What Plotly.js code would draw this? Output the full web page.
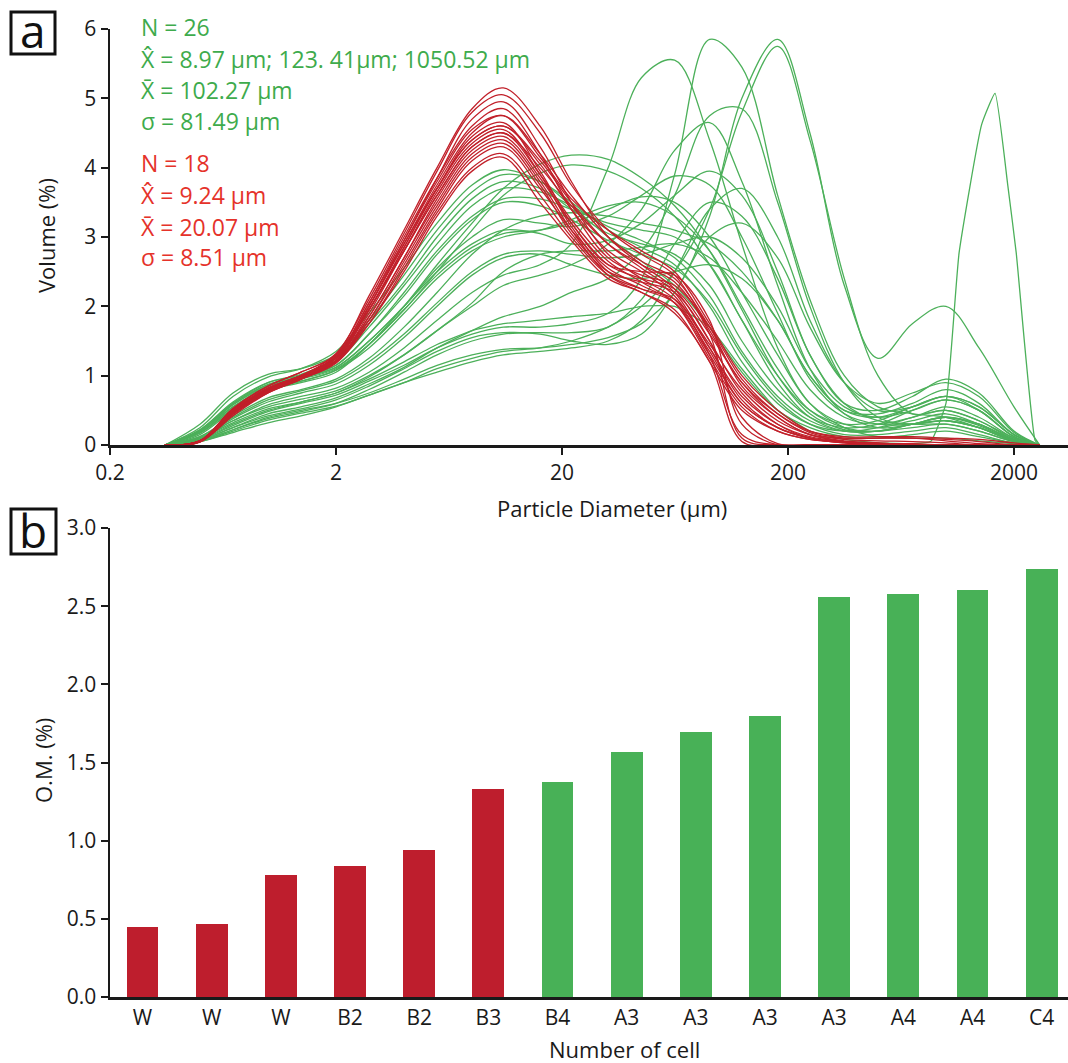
<!DOCTYPE html>
<html>
<head>
<meta charset="utf-8">
<script src="https://cdn.plot.ly/plotly-3.0.1.min.js"></script>
<style>html,body{margin:0;padding:0;background:#fff;}#chart{width:1068px;height:1063px;}</style>
</head>
<body>
<div id="chart"></div>
<script>
// ---------- Panel a: particle size distributions (Volume %) ----------
const diameterUm = [0.35,0.5,0.7,1,1.4,2,2.8,4,5.6,8,11,16,22,32,45,63,90,125,180,250,355,500,710,1000,1400,2000,2600];
const spikeDiameterUm = [0.35,0.5,0.7,1,1.4,2,2.8,4,5.6,8,11,16,22,32,45,63,90,125,180,250,355,500,710,855,1000,1143,1438,1649,1880,2046,2478,2600];

const diameterTickVals = [0.2,2,20,200,2000];
const diameterTickText = ['0.2','2','20','200','2000'];

// red group (N = 18)
const red01 = [0,0.05,0.45,0.78,0.98,1.3,2.15,3.1,4.0,4.85,5.15,4.6,3.8,3.0,2.6,2.25,1.5,0.75,0.3,0.1,0.03,0,0,0,0,0,0];
const red02 = [0,0.06,0.5,0.82,1.0,1.32,2.1,3.05,3.95,4.8,5.05,4.5,3.75,3.1,2.75,2.45,1.65,0.9,0.4,0.15,0.05,0.02,0,0,0,0,0];
const red03 = [0,0.04,0.42,0.75,0.95,1.25,2.0,2.95,3.85,4.7,4.95,4.3,3.5,2.75,2.4,2.1,1.3,0.15,0,0,0,0,0,0,0,0,0];
const red04 = [0,0.05,0.48,0.8,1.0,1.28,2.05,3.0,3.85,4.6,4.85,4.2,3.4,2.7,2.45,2.3,1.7,0.95,0.45,0.18,0.08,0.06,0.05,0.03,0,0,0];
const red05 = [0,0.06,0.52,0.85,1.05,1.3,2.05,2.95,3.8,4.55,4.75,4.15,3.55,3.1,2.8,2.5,1.75,1.0,0.5,0.2,0.1,0.1,0.1,0.08,0.05,0,0];
const red06 = [0,0.05,0.46,0.78,0.97,1.22,1.95,2.85,3.7,4.45,4.65,3.95,3.2,2.6,2.5,2.45,1.8,0.3,0,0,0,0,0,0,0,0,0];
const red07 = [0,0.06,0.5,0.8,1.0,1.25,1.95,2.85,3.7,4.4,4.6,4.05,3.4,2.8,2.5,2.15,1.4,0.7,0.3,0.12,0.05,0.02,0,0,0,0,0];
const red08 = [0,0.05,0.47,0.77,0.95,1.2,1.9,2.8,3.65,4.35,4.55,3.9,3.15,2.5,2.25,2.05,1.35,0.6,0.25,0.1,0.05,0.03,0,0,0,0,0];
const red09 = [0,0.06,0.53,0.85,1.05,1.3,1.95,2.8,3.6,4.3,4.5,4.0,3.45,2.9,2.6,2.35,1.6,0.1,0,0,0,0,0,0,0,0,0];
const red10 = [0,0.05,0.44,0.75,0.95,1.2,1.85,2.7,3.55,4.25,4.45,3.85,3.2,2.6,2.4,2.25,1.6,0.9,0.45,0.2,0.12,0.12,0.12,0.1,0.08,0.03,0];
const red11 = [0,0.06,0.5,0.8,1.0,1.22,1.85,2.7,3.5,4.2,4.4,3.8,3.1,2.45,2.2,1.95,1.2,0.5,0.2,0.08,0.04,0.02,0.02,0,0,0,0];
const red12 = [0,0.05,0.48,0.78,0.97,1.2,1.8,2.65,3.45,4.15,4.35,3.75,3.05,2.5,2.35,2.2,1.5,0.4,0.02,0,0,0,0,0,0,0,0];
const red13 = [0,0.06,0.5,0.82,1.0,1.22,1.8,2.6,3.4,4.1,4.3,3.7,3.1,2.55,2.3,2.05,1.3,0.6,0.25,0.1,0.05,0.02,0,0,0,0,0];
const red14 = [0,0.05,0.45,0.76,0.95,1.18,1.75,2.55,3.35,4.0,4.2,3.6,3.0,2.45,2.25,2.1,1.45,0.8,0.35,0.15,0.06,0.03,0,0,0,0,0];
const red15 = [0,0.06,0.5,0.8,0.98,1.2,1.75,2.5,3.3,3.95,4.15,3.5,2.95,2.4,2.2,1.9,1.2,0.05,0,0,0,0,0,0,0,0,0];
const red16 = [0,0.05,0.48,0.8,1.0,1.27,2.0,2.9,3.7,4.4,4.6,4.1,3.5,2.9,2.55,2.2,1.4,0.65,0.25,0.1,0.03,0,0,0,0,0,0];
const red17 = [0,0.06,0.5,0.82,1.0,1.25,1.95,2.8,3.6,4.3,4.5,3.9,3.25,2.65,2.35,2.05,1.25,0.55,0.2,0.08,0.04,0.02,0,0,0,0,0];
const red18 = [0,0.05,0.46,0.78,0.97,1.25,2.0,2.9,3.75,4.5,4.75,4.2,3.6,3.0,2.65,2.4,1.7,0.85,0.4,0.15,0.1,0.1,0.1,0.06,0.02,0,0];

// green group (N = 26)
const green01 = [0,0.25,0.7,0.98,1.1,1.35,1.9,2.55,3.2,3.75,3.97,3.8,3.45,3.0,2.65,2.3,1.7,1.05,0.5,0.25,0.12,0.1,0.15,0.2,0.12,0.03,0];
const green02 = [0,0.3,0.75,1.02,1.1,1.3,1.8,2.45,3.1,3.65,3.9,3.8,3.5,3.1,2.85,2.6,2.0,1.2,0.6,0.3,0.2,0.25,0.4,0.5,0.35,0.08,0];
const green03 = [0,0.2,0.6,0.9,1.02,1.25,1.75,2.35,3.0,3.55,3.8,3.7,3.4,3.05,2.9,2.75,2.3,1.5,0.8,0.4,0.25,0.3,0.5,0.65,0.5,0.12,0];
const green04 = [0,0.22,0.62,0.9,1.0,1.2,1.7,2.3,2.9,3.45,3.7,3.65,3.45,3.15,2.95,2.7,2.15,1.35,0.7,0.35,0.2,0.2,0.3,0.35,0.25,0.05,0];
const green05 = [0,0.18,0.55,0.85,0.98,1.15,1.6,2.2,2.8,3.3,3.55,3.55,3.4,3.2,3.1,3.0,2.6,1.8,1.0,0.5,0.3,0.35,0.55,0.7,0.55,0.15,0];
const green06 = [0,0.2,0.58,0.87,0.98,1.15,1.6,2.15,2.75,3.25,3.5,3.45,3.25,2.95,2.75,2.55,2.05,1.3,0.65,0.3,0.15,0.15,0.2,0.25,0.15,0.03,0];
const green07 = [0,0.15,0.5,0.78,0.9,1.05,1.45,2.0,2.6,3.2,3.7,4.05,4.18,4.12,3.85,3.45,2.8,1.95,1.0,0.45,0.22,0.2,0.25,0.3,0.2,0.05,0];
const green08 = [0,0.17,0.52,0.8,0.92,1.08,1.45,1.95,2.5,3.1,3.6,3.92,4.04,3.95,3.7,3.3,2.6,1.8,0.9,0.4,0.2,0.2,0.3,0.4,0.28,0.06,0];
const green09 = [0,0.2,0.58,0.85,0.97,1.12,1.5,2.0,2.5,2.9,3.1,3.05,2.9,2.95,3.2,3.6,3.95,3.6,2.5,1.3,0.6,0.35,0.3,0.3,0.2,0.05,0];
const green10 = [0,0.22,0.6,0.87,0.98,1.12,1.5,2.0,2.55,3.0,3.25,3.2,3.15,3.3,3.6,3.88,3.75,3.0,1.9,0.95,0.45,0.3,0.3,0.35,0.25,0.06,0];
const green11 = [0,0.2,0.55,0.82,0.95,1.1,1.45,1.95,2.45,2.85,3.05,3.1,3.2,3.4,3.58,3.5,3.0,2.2,1.3,0.6,0.3,0.25,0.35,0.45,0.3,0.07,0];
const green12 = [0,0.18,0.52,0.8,0.92,1.08,1.4,1.9,2.4,2.8,3.0,3.1,3.25,3.45,3.5,3.3,2.8,2.0,1.1,0.5,0.25,0.2,0.3,0.4,0.3,0.08,0];
const green13 = [0,0.12,0.4,0.65,0.78,0.92,1.2,1.6,2.05,2.5,2.75,2.8,2.75,2.7,2.75,2.9,3.0,2.7,2.0,1.1,0.55,0.4,0.5,0.65,0.5,0.12,0];
const green14 = [0,0.1,0.38,0.62,0.75,0.88,1.15,1.55,2.0,2.45,2.7,2.75,2.6,2.45,2.4,2.5,2.6,2.4,1.8,1.0,0.5,0.45,0.6,0.8,0.6,0.15,0];
const green15 = [0,0.1,0.35,0.58,0.7,0.82,1.05,1.4,1.8,2.2,2.45,2.6,2.9,4.0,5.3,5.55,4.4,2.9,1.4,0.6,0.25,0.12,0.1,0.1,0.06,0.02,0];
const green16 = [0,0.08,0.28,0.48,0.6,0.72,0.92,1.15,1.4,1.6,1.7,1.7,1.75,1.9,2.4,3.9,5.85,5.45,3.6,2.1,1.0,0.55,0.45,0.4,0.25,0.06,0];
const green17 = [0,0.06,0.22,0.4,0.5,0.6,0.75,0.95,1.15,1.3,1.38,1.4,1.45,1.55,1.75,2.2,3.3,5.0,5.85,4.5,2.3,1.25,1.75,2.0,1.4,0.55,0];
const green18 = [0,0.05,0.2,0.36,0.46,0.56,0.72,0.9,1.1,1.25,1.35,1.4,1.5,1.7,2.0,2.5,3.4,4.8,5.75,4.4,2.4,1.0,0.45,0.5,0.35,0.1,0];
const green19 = [0,0.07,0.25,0.45,0.55,0.68,0.88,1.12,1.4,1.65,1.85,2.0,2.2,2.4,2.8,3.6,4.75,4.85,3.5,2.0,0.9,0.4,0.3,0.35,0.25,0.06,0];
const green20 = [0,0.1,0.32,0.52,0.62,0.75,0.98,1.3,1.65,2.0,2.3,2.45,2.6,2.9,3.4,4.25,4.65,3.8,2.3,1.1,0.45,0.25,0.3,0.4,0.3,0.07,0];
const green21 = [0,0.08,0.3,0.5,0.62,0.75,0.95,1.2,1.45,1.65,1.75,1.8,1.85,1.9,2.0,2.0,1.7,1.1,0.5,0.2,0.08,0.03,0.02,0.05,0.6,2.77,4.62,5.07,3.73,2.77,0.07,0];
const green22 = [0,0.05,0.18,0.32,0.42,0.55,0.72,0.9,1.05,1.2,1.3,1.35,1.4,1.5,1.8,2.5,3.4,3.7,3.0,1.8,0.9,0.5,0.55,0.7,0.55,0.15,0];
const green23 = [0,0.06,0.22,0.38,0.48,0.6,0.8,1.05,1.3,1.5,1.6,1.62,1.62,1.7,2.1,2.9,3.5,3.3,2.4,1.3,0.6,0.5,0.7,0.95,0.75,0.2,0];
const green24 = [0,0.07,0.25,0.42,0.52,0.65,0.85,1.1,1.35,1.55,1.62,1.6,1.5,1.45,1.6,2.2,3.0,3.2,2.7,1.7,0.9,0.6,0.75,0.9,0.7,0.18,0];
const green25 = [0,0.1,0.35,0.55,0.66,0.78,1.0,1.3,1.65,2.05,2.5,2.75,2.8,2.8,2.85,2.9,2.7,2.2,1.5,0.8,0.4,0.3,0.4,0.55,0.4,0.1,0];
const green26 = [0,0.12,0.42,0.68,0.8,0.95,1.25,1.7,2.2,2.75,3.1,3.3,3.35,3.3,3.2,3.1,2.9,2.5,1.8,1.0,0.5,0.4,0.55,0.7,0.5,0.12,0];

// statistics text
const greenStats = ['N = 26', 'X\u0302 = 8.97 \u03bcm; 123. 41\u03bcm; 1050.52 \u03bcm', 'X\u0304 = 102.27 \u03bcm', '\u03c3 = 81.49 \u03bcm'];
const redStats = ['N = 18', 'X\u0302 = 9.24 \u03bcm', 'X\u0304 = 20.07 \u03bcm', '\u03c3 = 8.51 \u03bcm'];

// ---------- Panel b: organic matter per cell ----------
const cellLabels = ['W','W','W','B2','B2','B3','B4','A3','A3','A3','A3','A4','A4','C4'];
const omPercent = [0.45,0.465,0.78,0.84,0.94,1.33,1.375,1.565,1.695,1.795,2.56,2.575,2.605,2.735];
const cellGroup = ['red','red','red','red','red','red','green','green','green','green','green','green','green','green'];

// ---------- styling ----------
const GREEN_LINE = '#4cb05a';
const RED_LINE = '#c1202a';
const GREEN_BAR = '#48b157';
const RED_BAR = '#be1e2d';
const GREEN_TEXT = '#3eab4c';
const RED_TEXT = '#e5322a';
const AX = '#1a1a1a';

const redSeries = [red01,red02,red03,red04,red05,red06,red07,red08,red09,red10,red11,red12,red13,red14,red15,red16,red17,red18];
const greenSeries = [green01,green02,green03,green04,green05,green06,green07,green08,green09,green10,green11,green12,green13,green14,green15,green16,green17,green18,green19,green20,green21,green22,green23,green24,green25,green26];

const traces = [];
greenSeries.forEach((ys) => {
  const isSpike = (ys === green21);
  traces.push({
    type: 'scatter', mode: 'lines', xaxis: 'x', yaxis: 'y',
    x: isSpike ? spikeDiameterUm : diameterUm, y: ys,
    line: {color: GREEN_LINE, width: 1.3, shape: 'spline', smoothing: isSpike ? 0.4 : 1},
    hoverinfo: 'skip', showlegend: false
  });
});
redSeries.forEach((ys) => {
  traces.push({
    type: 'scatter', mode: 'lines', xaxis: 'x', yaxis: 'y',
    x: diameterUm, y: ys,
    line: {color: RED_LINE, width: 1.3, shape: 'spline', smoothing: 1},
    hoverinfo: 'skip', showlegend: false
  });
});
const cellIndex = cellLabels.map((_, i) => i);
traces.push({
  type: 'bar', xaxis: 'x2', yaxis: 'y2',
  x: cellIndex, y: omPercent, width: 0.46,
  marker: {color: cellGroup.map(g => g === 'red' ? RED_BAR : GREEN_BAR), line: {width: 0}},
  hoverinfo: 'skip', showlegend: false
});

const H = 1063, W = 1068;
const px = v => v / W;
const py = v => 1 - v / H;

const annotations = [];
const greenY = [27, 59, 90, 121];
const redY = [163, 195, 227, 257];
greenStats.forEach((t, i) => annotations.push({text: t, xref: 'paper', yref: 'paper', x: px(139), y: py(greenY[i]), xanchor: 'left', yanchor: 'middle', showarrow: false, font: {size: 23, color: GREEN_TEXT}}));
redStats.forEach((t, i) => annotations.push({text: t, xref: 'paper', yref: 'paper', x: px(139), y: py(redY[i]), xanchor: 'left', yanchor: 'middle', showarrow: false, font: {size: 23, color: RED_TEXT}}));
annotations.push({text: 'Volume (%)', xref: 'paper', yref: 'paper', x: px(46), y: py(236), xanchor: 'center', yanchor: 'middle', textangle: -90, showarrow: false, font: {size: 22, color: AX}});
annotations.push({text: 'Particle Diameter (\u03bcm)', xref: 'paper', yref: 'paper', x: px(612), y: py(508), xanchor: 'center', yanchor: 'middle', showarrow: false, font: {size: 22, color: AX}});
annotations.push({text: 'O.M. (%)', xref: 'paper', yref: 'paper', x: px(43), y: py(761), xanchor: 'center', yanchor: 'middle', textangle: -90, showarrow: false, font: {size: 22, color: AX}});
annotations.push({text: 'Number of cell', xref: 'paper', yref: 'paper', x: px(624), y: py(1049), xanchor: 'center', yanchor: 'middle', showarrow: false, font: {size: 22, color: AX}});
annotations.push({text: 'a', xref: 'paper', yref: 'paper', x: px(33), y: py(30), xanchor: 'center', yanchor: 'middle', showarrow: false, font: {size: 46, color: '#111'}});
annotations.push({text: 'b', xref: 'paper', yref: 'paper', x: px(33), y: py(530), xanchor: 'center', yanchor: 'middle', showarrow: false, font: {size: 46, color: '#111'}});

const shapes = [
  {type: 'rect', xref: 'paper', yref: 'paper', x0: px(11), x1: px(55), y0: py(54), y1: py(12), line: {color: '#111', width: 3}},
  {type: 'rect', xref: 'paper', yref: 'paper', x0: px(11), x1: px(56), y0: py(554), y1: py(509), line: {color: '#111', width: 3}}
];

const axisCommon = {showline: true, linecolor: AX, linewidth: 2.5, ticks: 'outside', ticklen: 7, tickwidth: 2, tickcolor: AX, showgrid: false, zeroline: false, tickfont: {size: 21, color: AX}, fixedrange: true};

const layout = {
  width: W, height: H,
  margin: {l: 0, r: 0, t: 0, b: 0},
  paper_bgcolor: '#ffffff', plot_bgcolor: '#ffffff',
  font: {family: 'Open Sans, Noto Sans, sans-serif', color: AX},
  showlegend: false,
  xaxis: Object.assign({}, axisCommon, {type: 'log', domain: [px(110), 1], range: [Math.log10(0.2), 3.54], tickvals: diameterTickVals, ticktext: diameterTickText, anchor: 'y'}),
  yaxis: Object.assign({}, axisCommon, {domain: [py(445), py(29)], range: [0, 6], tickvals: [0,1,2,3,4,5,6], anchor: 'x'}),
  xaxis2: Object.assign({}, axisCommon, {domain: [px(110), 1], range: [-0.47, 13.38], tickvals: cellIndex, ticktext: cellLabels, ticks: '', anchor: 'y2'}),
  yaxis2: Object.assign({}, axisCommon, {domain: [py(997), py(528)], range: [0, 3], tickvals: [0,0.5,1,1.5,2,2.5,3], tickformat: '.1f', anchor: 'x2'}),
  annotations: annotations,
  shapes: shapes,
  bargap: 0
};

Plotly.newPlot('chart', traces, layout, {staticPlot: true, displayModeBar: false});
</script>
</body>
</html>
